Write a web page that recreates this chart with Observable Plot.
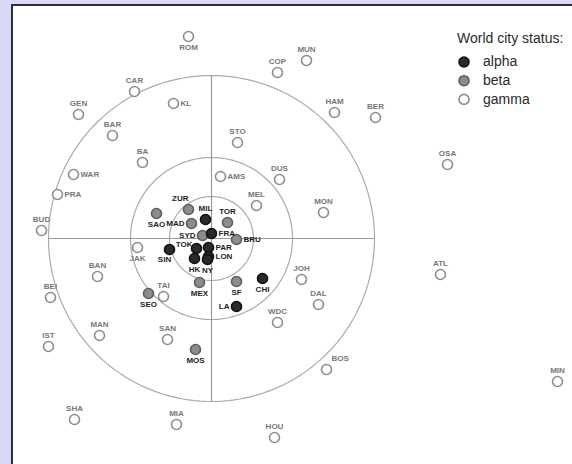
<!DOCTYPE html>
<html><head><meta charset="utf-8">
<script src="https://cdn.jsdelivr.net/npm/d3@7"></script>
<script src="https://cdn.jsdelivr.net/npm/@observablehq/plot@0.6"></script>
<style>
html,body{margin:0;padding:0;background:#d9d9f6;}
#wrap{position:relative;width:572px;height:464px;overflow:hidden;background:#d9d9f6;font-family:"Liberation Sans",Arial,sans-serif;}
#panel{position:absolute;left:11px;top:4px;width:600px;height:458px;background:#fff;border:2px solid #2e2e2e;}
#chart{position:absolute;left:0;top:0;}
#legend{position:absolute;left:450px;top:20px;}
</style></head>
<body><div id="wrap"><div id="panel"></div><div id="chart"></div><div id="legend"></div></div>
<script>
// City codes, positions (arbitrary units, centre of rings = 0,0), status and label side
const cities = ["ROM","CAR","GEN","KL","BAR","BA","COP","MUN","HAM","BER","STO","OSA","WAR","PRA","BUD","AMS","DUS","MEL","MON","JAK","BAN","BEI","TAI","JOH","ATL","DAL","WDC","IST","MAN","SAN","BOS","SHA","MIA","HOU","MIN",
  "SAO","SEO","ZUR","MAD","TOR","SYD","BRU","MEX","SF","MOS",
  "MIL","FRA","TOK","PAR","LON","HK","NY","SIN","CHI","LA"];
const xs = [-23,-77,-133,-38,-99,-69,66,95,123,164,26,236,-138,-154,-170,9,68,45,112,-74,-114,-161,-48,90,229,107,66,-163,-112,-44,115,-137,-35,63,346,
  -55,-63,-23,-20,16,-9,25,-12,25,-16,
  -6,0,-15,-3,-3,-17,-4,-42,51,25];
const ys = [202,147,124,135,103,76,166,178,126,121,96,74,64,44,8,62,59,33,26,-9,-38,-59,-58,-41,-36,-66,-84,-108,-97,-101,-131,-181,-186,-199,-143,
  25,-55,29,15,16,3,-1,-44,-43,-111,
  19,5,-10,-9,-18,-20,-21,-11,-40,-68];
const status = [
  "gamma","gamma","gamma","gamma","gamma","gamma","gamma","gamma","gamma","gamma","gamma","gamma","gamma","gamma","gamma","gamma","gamma","gamma","gamma","gamma","gamma","gamma","gamma","gamma","gamma","gamma","gamma","gamma","gamma","gamma","gamma","gamma","gamma","gamma","gamma",
  "beta","beta","beta","beta","beta","beta","beta","beta","beta","beta",
  "alpha","alpha","alpha","alpha","alpha","alpha","alpha","alpha","alpha","alpha"];
const labelSide = ["b","t","t","r","t","t","t","t","t","t","t","t","r","r","t","r","t","t","t","b","t","t","t","t","t","t","t","t","t","t","tr","t","t","t","t",
  "b","b","tl","l","t","l","r","b","b","b",
  "t","r","lt","r","r","b","b","bl","b","l"];
const rings = [42, 81, 163];
const statuses = ["alpha","beta","gamma"];
const legendTitle = "World city status:";

const data = cities.map((name,i)=>({name, x: xs[i], y: ys[i], status: status[i], side: labelSide[i]}));
const ringPts = rings.flatMap((r,k)=> d3.range(0,361,2).map(a=>({ring:k, x:r*Math.cos(a*Math.PI/180), y:r*Math.sin(a*Math.PI/180)})));
const R = rings[rings.length-1];

const fillC = {alpha:"#2a2a2a", beta:"#8c8c8c", gamma:"#ffffff"};
const strokeC = {alpha:"#111111", beta:"#606060", gamma:"#8e8e8e"};
const labelC = {alpha:"#1e1e1e", beta:"#1e1e1e", gamma:"#777777"};
const sides = {
  t:{dx:0,dy:-11,textAnchor:"middle"},
  b:{dx:0,dy:11,textAnchor:"middle"},
  l:{dx:-7,dy:0,textAnchor:"end"},
  r:{dx:7,dy:0,textAnchor:"start"},
  tl:{dx:0,dy:-11,textAnchor:"end"},
  tr:{dx:5,dy:-11,textAnchor:"start"},
  bl:{dx:-5,dy:10,textAnchor:"middle"},
  lt:{dx:-4,dy:-4,textAnchor:"end"}
};
const order = ["gamma","beta","alpha"];

const chart = Plot.plot({
  width:572, height:464, margin:0,
  x:{domain:[-211,361], axis:null},
  y:{domain:[-226,238], axis:null},
  color:{type:"identity"},
  style:{background:"transparent", fontFamily:"'Liberation Sans',Arial,sans-serif"},
  marks:[
    Plot.line(ringPts, {x:"x", y:"y", z:"ring", stroke:"#ababab", strokeWidth:1.2}),
    Plot.ruleX([0], {y1:-R, y2:R, stroke:"#9a9a9a", strokeWidth:1.2}),
    Plot.ruleY([0], {x1:-R, x2:R, stroke:"#9a9a9a", strokeWidth:1.2}),
    ...order.map(s=>Plot.dot(data.filter(d=>d.status===s), {x:"x", y:"y", r:5, fill:fillC[s], stroke:strokeC[s], strokeWidth:1.6})),
    ...Object.entries(sides).map(([s,o])=>Plot.text(data.filter(d=>d.side===s), {x:"x", y:"y", text:"name", fill:d=>labelC[d.status], fontSize:8, fontWeight:"bold", ...o}))
  ]
});
document.getElementById("chart").appendChild(chart);

// Legend
const lg = d3.select("#legend").append("svg").attr("width",122).attr("height",95)
  .style("font-family","'Liberation Sans',Arial,sans-serif");
lg.append("text").attr("x",7).attr("y",23).attr("font-size",14).attr("fill","#2a2a2a").text(legendTitle);
statuses.forEach((s,i)=>{
  const cy = 42 + i*18.7;
  lg.append("circle").attr("cx",14).attr("cy",cy).attr("r",5).attr("fill",fillC[s]).attr("stroke",strokeC[s]).attr("stroke-width",1.6);
  lg.append("text").attr("x",33).attr("y",cy).attr("dy","0.32em").attr("font-size",14).attr("fill","#2a2a2a").text(s);
});
</script>
</body></html>
